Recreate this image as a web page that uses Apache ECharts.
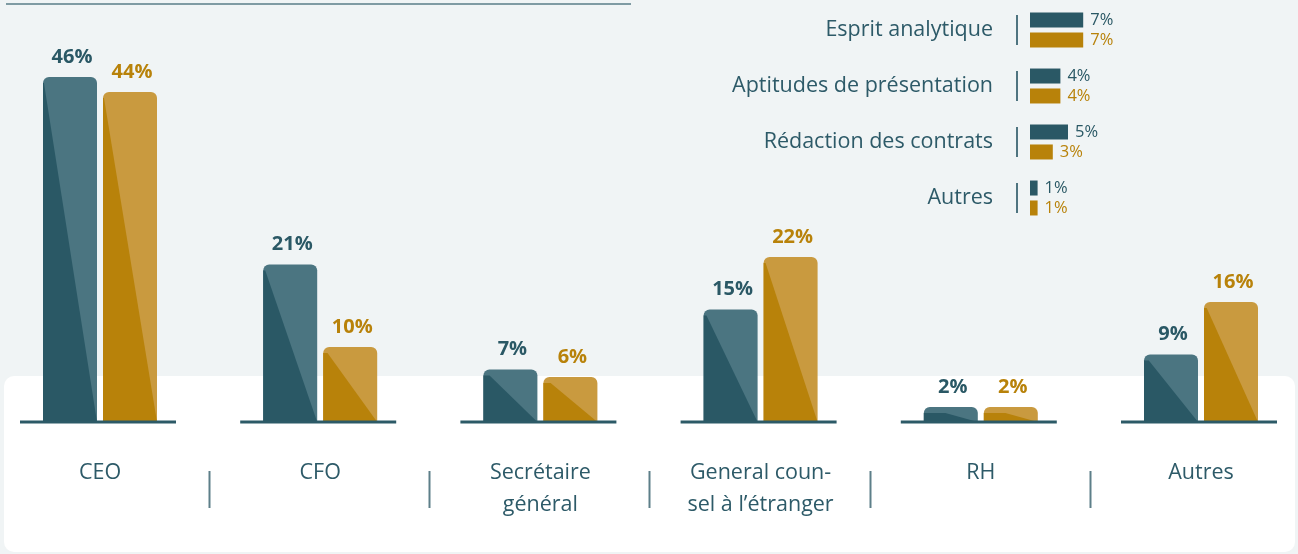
<!DOCTYPE html>
<html>
<head>
<meta charset="utf-8">
<script src="https://cdn.jsdelivr.net/npm/echarts@6/dist/echarts.min.js"></script>
<style>
  html, body { margin: 0; padding: 0; background: #f0f4f5; }
  #main { width: 1298px; height: 554px; }
</style>
</head>
<body>
<div id="main"></div>
<script>
// main chart
const categories = ['CEO', 'CFO', 'Secrétaire\ngénéral', 'General coun-\nsel à l’étranger', 'RH', 'Autres'];
const tealValues = [46, 21, 7, 15, 2, 9];
const goldValues = [44, 10, 6, 22, 2, 16];

// mini chart (top right)
const skillLabels = ['Esprit analytique', 'Aptitudes de présentation', 'Rédaction des contrats', 'Autres'];
const skillTeal = [7, 4, 5, 1];
const skillGold = [7, 4, 3, 1];

const TEAL = '#2a5865', TEAL_LIGHT = '#4b7581';
const GOLD = '#b8820a', GOLD_LIGHT = '#c99a3f';
const TEXT = '#2d5a68';
const FONT = '"Open Sans", Roboto, sans-serif';

const chart = echarts.init(document.getElementById('main'));

function shadedBar(x, top, w, base, light, dark) {
  const h = base - top;
  const r = Math.min(6, h / 2);
  return [
    { type: 'rect', shape: { x: x, y: top, width: w, height: h, r: [r, r, 0, 0] }, style: { fill: light } },
    { type: 'polygon', shape: { points: [[x, top + r], [x, base], [x + w, base], [x + w * r / h, top + r]] }, style: { fill: dark } }
  ];
}

function renderGroup(params, api) {
  const idx = api.value(0);
  const base = api.coord([idx, 0]);
  const tTop = api.coord([idx, api.value(1)])[1];
  const gTop = api.coord([idx, api.value(2)])[1];
  const cx = base[0], by = base[1];
  const w = 54;
  let children = [];
  children = children.concat(shadedBar(cx - 57, tTop, w, by, TEAL_LIGHT, TEAL));
  children = children.concat(shadedBar(cx + 3, gTop, w, by, GOLD_LIGHT, GOLD));
  children.push({ type: 'line', shape: { x1: cx - 80, y1: by, x2: cx + 76, y2: by }, style: { stroke: '#2c5a67', lineWidth: 3 } });
  children.push({ type: 'text', style: { text: api.value(1) + '%', x: cx - 28, y: tTop - 20, align: 'center', verticalAlign: 'middle', fill: TEAL, font: 'bold 20px ' + FONT } });
  children.push({ type: 'text', style: { text: api.value(2) + '%', x: cx + 32, y: gTop - 20, align: 'center', verticalAlign: 'middle', fill: GOLD, font: 'bold 20px ' + FONT } });
  // category name under the group
  children.push({ type: 'text', style: { text: categories[idx], x: cx, y: by + 35, align: 'center', verticalAlign: 'top', lineHeight: 32, fill: TEXT, font: '21.5px ' + FONT } });
  if (idx < categories.length - 1) {
    const sx = Math.round(cx + 110) - 0.5;
    children.push({ type: 'line', shape: { x1: sx, y1: by + 49, x2: sx, y2: by + 86 }, style: { stroke: '#5d7f89', lineWidth: 2 } });
  }
  return { type: 'group', children: children };
}

function renderTick(params, api) {
  const p = api.coord([0, api.value(1)]);
  return { type: 'line', shape: { x1: p[0] - 13, y1: p[1] - 15, x2: p[0] - 13, y2: p[1] + 15 }, style: { stroke: '#4f7480', lineWidth: 2 } };
}

// group centres sit at 100 + 220.2 * i px across the full 1298 px width
const option = {
  backgroundColor: '#f0f4f5',
  animation: false,
  textStyle: { fontFamily: FONT },
  graphic: [
    { type: 'rect', z: -10, shape: { x: 4, y: 376, width: 1291, height: 176, r: 10 }, style: { fill: '#ffffff' } },
    { type: 'line', z: -10, shape: { x1: 6, y1: 4, x2: 631, y2: 4 }, style: { stroke: '#7f9ba3', lineWidth: 2 } }
  ],
  grid: [
    { left: 0, right: 0, top: 2, bottom: 132 },
    { left: 1030, top: 2, width: 76, height: 224 }
  ],
  xAxis: [
    { type: 'value', gridIndex: 0, min: -100 / 220.2, max: 1198 / 220.2, show: false },
    { type: 'value', gridIndex: 1, min: 0, max: 10, show: false }
  ],
  yAxis: [
    { type: 'value', gridIndex: 0, min: 0, max: 56, show: false },
    {
      type: 'category', gridIndex: 1, data: skillLabels, inverse: true,
      axisLine: { show: false }, axisTick: { show: false },
      axisLabel: { color: TEXT, fontSize: 21.5, margin: 37, padding: [0, 0, 4, 0], fontFamily: FONT }
    }
  ],
  series: [
    {
      type: 'custom', xAxisIndex: 0, yAxisIndex: 0,
      renderItem: renderGroup,
      data: categories.map((c, i) => [i, tealValues[i], goldValues[i]])
    },
    {
      type: 'bar', xAxisIndex: 1, yAxisIndex: 1, data: skillTeal,
      barWidth: 15, barGap: '33%', itemStyle: { color: TEAL },
      label: { show: true, position: 'right', distance: 7, formatter: '{c}%', color: TEAL, fontSize: 16.5, fontFamily: FONT }
    },
    {
      type: 'bar', xAxisIndex: 1, yAxisIndex: 1, data: skillGold,
      barWidth: 15, barGap: '33%', itemStyle: { color: GOLD },
      label: { show: true, position: 'right', distance: 7, formatter: '{c}%', color: GOLD, fontSize: 16.5, fontFamily: FONT }
    },
    {
      type: 'custom', xAxisIndex: 1, yAxisIndex: 1,
      renderItem: renderTick,
      data: skillLabels.map((s, i) => [0, i])
    }
  ]
};

chart.setOption(option);
</script>
</body>
</html>
